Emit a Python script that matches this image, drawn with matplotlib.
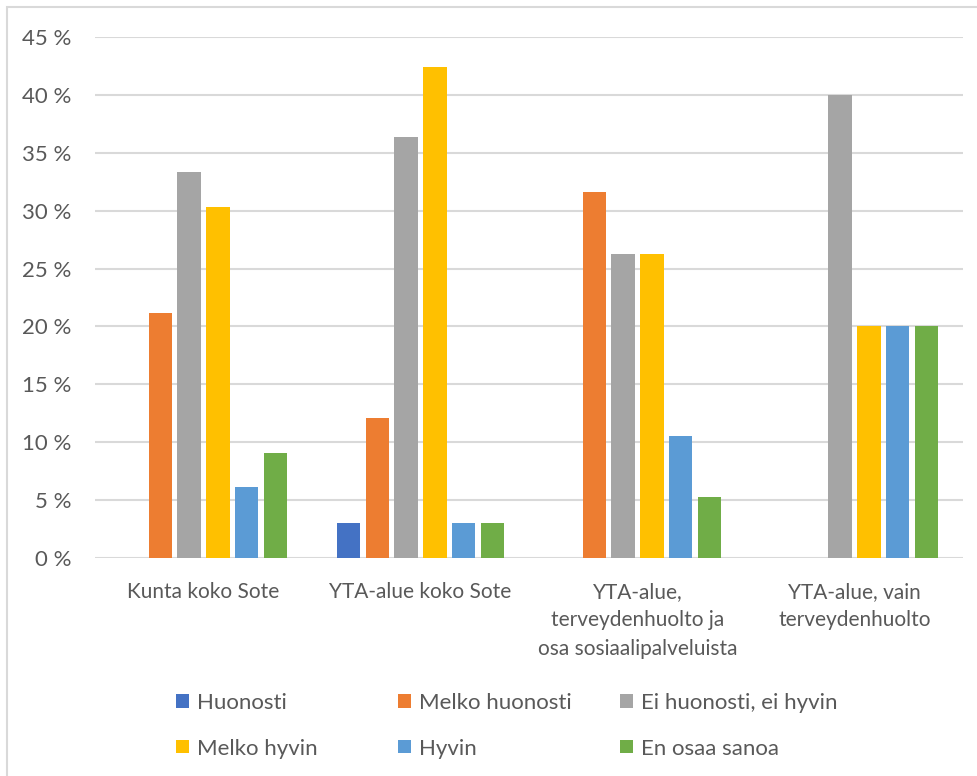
import numpy as np
import matplotlib.pyplot as plt
from matplotlib.patches import Rectangle
from matplotlib.ticker import FuncFormatter

# vastausjakaumat (%) alueittain
categories = ["Kunta koko Sote", "YTA-alue koko Sote",
              "YTA-alue,\nterveydenhuolto ja\nosa sosiaalipalveluista",
              "YTA-alue, vain\nterveydenhuolto"]
series_names = ["Huonosti", "Melko huonosti", "Ei huonosti, ei hyvin",
                "Melko hyvin", "Hyvin", "En osaa sanoa"]
huonosti = [0.0, 3.0, 0.0, 0.0]
melko_huonosti = [21.2, 12.1, 31.6, 0.0]
ei_huonosti_ei_hyvin = [33.3, 36.4, 26.3, 40.0]
melko_hyvin = [30.3, 42.4, 26.3, 20.0]
hyvin = [6.1, 3.0, 10.5, 20.0]
en_osaa_sanoa = [9.1, 3.0, 5.3, 20.0]
colors = ["#4472C4", "#ED7D31", "#A5A5A5", "#FFC000", "#5B9BD5", "#70AD47"]

series = [huonosti, melko_huonosti, ei_huonosti_ei_hyvin,
          melko_hyvin, hyvin, en_osaa_sanoa]

plt.rcParams["font.family"] = ["Lato", "DejaVu Sans"]
txt = "#595959"

fig = plt.figure(figsize=(9.78, 7.76), dpi=100)
ax = fig.add_axes([95 / 978, 1 - 558 / 776, 868 / 978, 521 / 776])

x = np.arange(len(categories))
slot = 0.8 / len(series)
bars = []
for i, (name, vals) in enumerate(zip(series_names, series)):
    pos = x - 0.4 + slot * (i + 0.5)
    bars.append(ax.bar(pos, vals, width=slot * 0.8, color=colors[i],
                       label=name, zorder=3))

ax.set_xlim(-0.5, len(categories) - 0.5)
ax.set_ylim(0, 45)
ax.set_yticks(np.arange(0, 46, 5))
ax.yaxis.set_major_formatter(FuncFormatter(lambda v, p: f"{v:.0f} %"))
ax.grid(axis="y", color="#D9D9D9", linewidth=1.5, zorder=0)
for s in ax.spines.values():
    s.set_visible(False)
ax.tick_params(axis="both", length=0, colors=txt, labelsize=15)
ax.tick_params(axis="y", pad=17, labelsize=16)
ax.tick_params(axis="x", pad=17)
ax.set_xticks(x)
ax.set_xticklabels(categories, linespacing=1.55)

# legenda kolmena kiinteän levyisenä sarakkeena, kaksi riviä
col_x = [176, 398, 620]
for c in range(3):
    idx = [c, c + 3]
    leg = fig.legend([bars[i] for i in idx], [series_names[i] for i in idx],
                     loc="upper left",
                     bbox_to_anchor=(col_x[c] / 978, 1 - 693 / 776),
                     frameon=False, fontsize=16, labelcolor=txt,
                     borderpad=0, borderaxespad=0,
                     handlelength=0.59, handleheight=0.55, handletextpad=0.36,
                     labelspacing=1.15)

# kehys kuvan ympärillä
fig.patches.append(Rectangle((7 / 978, -0.01), 1.0, 1 - 7 / 776 + 0.01,
                             transform=fig.transFigure, fill=False,
                             edgecolor="#D9D9D9", linewidth=1.5))

fig.savefig("out.png", dpi=100)
